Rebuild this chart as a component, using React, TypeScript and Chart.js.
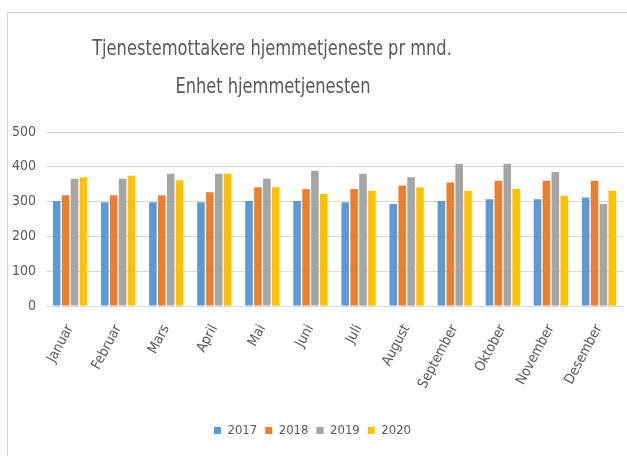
import React, { useEffect, useRef } from "react";
import { Chart, registerables } from "chart.js";

Chart.register(...registerables);

const months = ["Januar", "Februar", "Mars", "April", "Mai", "Juni", "Juli", "August", "September", "Oktober", "November", "Desember"];
const s2017 = [302, 298, 298, 298, 302, 302, 298, 293, 302, 307, 307, 312];
const s2018 = [318, 318, 318, 327, 341, 336, 336, 346, 355, 360, 360, 360];
const s2019 = [366, 366, 380, 380, 366, 389, 380, 370, 409, 409, 385, 293];
const s2020 = [370, 374, 361, 380, 341, 322, 331, 341, 331, 336, 317, 331];
const titleLines = ["Tjenestemottakere hjemmetjeneste pr mnd.", "Enhet hjemmetjenesten"];

const FONT = "'Liberation Sans Narrow', 'DejaVu Sans Condensed', 'Liberation Sans', sans-serif";
const TXT = "#595959";

export default function App() {
  const ref = useRef<HTMLCanvasElement>(null);
  useEffect(() => {
    if (!ref.current) return;
    const framePlugin = {
      id: "frameAndTitle",
      beforeDraw(chart: any) {
        const ctx = chart.ctx;
        ctx.save();
        ctx.fillStyle = "#ffffff";
        ctx.fillRect(0, 0, chart.width, chart.height);
        ctx.strokeStyle = "#d9d9d9";
        ctx.lineWidth = 1;
        ctx.strokeRect(7.5, 12.5, 800, 600);
        ctx.fillStyle = TXT;
        ctx.font = "21px " + FONT;
        ctx.textAlign = "center";
        ctx.textBaseline = "middle";
        const sx = 0.86;
        ctx.scale(sx, 1);
        ctx.fillText(titleLines[0], 272 / sx, 50);
        ctx.fillText(titleLines[1], 273 / sx, 88);
        ctx.restore();
      },
    };
    const chart = new Chart(ref.current, {
      type: "bar",
      data: {
        labels: months,
        datasets: [
          { label: "2017", data: s2017, backgroundColor: "#5B9BD5" },
          { label: "2018", data: s2018, backgroundColor: "#ED7D31" },
          { label: "2019", data: s2019, backgroundColor: "#A5A5A5" },
          { label: "2020", data: s2020, backgroundColor: "#FFC000" },
        ],
      },
      options: {
        responsive: false,
        animation: false,
        layout: { padding: { top: 132, left: 2, right: 4, bottom: 9 } },
        datasets: { bar: { barPercentage: 0.85, categoryPercentage: 0.74 } },
        plugins: {
          title: { display: false },
          tooltip: { enabled: false },
          legend: {
            position: "bottom",
            labels: {
              boxWidth: 7,
              boxHeight: 7,
              color: TXT,
              font: { family: FONT, size: 13 },
              padding: 8,
            },
          },
        },
        scales: {
          x: {
            grid: { display: false },
            border: { display: true, color: "#d9d9d9", width: 1 },
            ticks: {
              color: TXT,
              font: { family: FONT, size: 14 },
              minRotation: 62,
              maxRotation: 62,
              padding: 8,
            },
            afterFit(scale: any) {
              scale.height = 110;
            },
          },
          y: {
            min: 0,
            max: 500,
            ticks: { stepSize: 100, color: TXT, font: { family: FONT, size: 14 }, padding: 10 },
            grid: { color: "#d9d9d9", lineWidth: 1, drawTicks: false },
            border: { display: false },
          },
        },
      },
      plugins: [framePlugin],
    });
    return () => chart.destroy();
  }, []);
  return (
    <div style={{ position: "fixed", left: 0, top: 0, width: 627, height: 456, background: "#fff" }}>
      <canvas ref={ref} width={627} height={456} style={{ display: "block" }} />
    </div>
  );
}
